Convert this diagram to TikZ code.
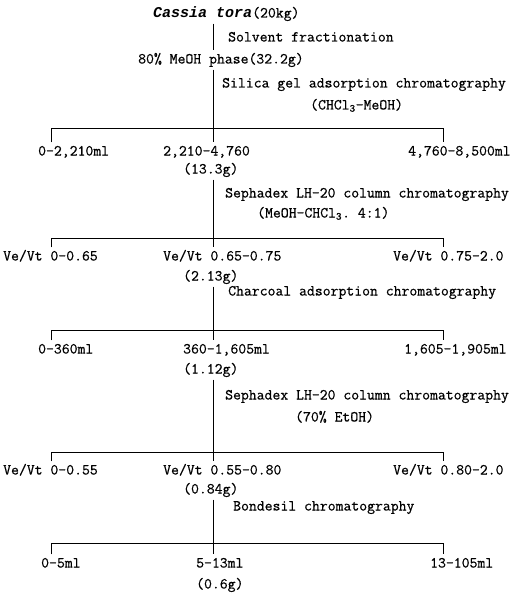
\documentclass[tikz,border=0pt]{standalone}
\usepackage{fontspec}
\usepackage{tikz}
\setmonofont{Latin Modern Mono}[FakeBold=0.6]
\newfontfamily\namefont{Liberation Mono}
\newcommand{\chcl}{CHCl\textsubscript{3}}

\begin{document}
\begin{tikzpicture}[
        x=1pt, y=-1pt,
        txt/.style={anchor=west, inner xsep=0pt, inner ysep=3pt, text height=10pt, text depth=3pt, font=\fontsize{15.3}{18}\ttfamily},
        link/.style={line width=0.8pt, black}
    ]
        \useasboundingbox (0,0) rectangle (530,599);

        % branch points
        \coordinate (l1) at (51,128);  \coordinate (m1) at (213,128); \coordinate (r1) at (443,128);
        \coordinate (l2) at (51,238);  \coordinate (m2) at (213,238); \coordinate (r2) at (443,238);
        \coordinate (l3) at (51,330);  \coordinate (m3) at (213,330); \coordinate (r3) at (443,330);
        \coordinate (l4) at (51,452);  \coordinate (m4) at (213,452); \coordinate (r4) at (443,452);
        \coordinate (l5) at (51,543);  \coordinate (m5) at (213,543); \coordinate (r5) at (443,543);

        % starting material
        \node[txt] (cassia) at (153,14) {{\fontsize{15}{17}\namefont\bfseries\itshape Cassia tora}(20kg)};
        \node[txt] (solvent) at (228,38) {Solvent fractionation};
        \node[txt] (meoh) at (138,60) {80\% MeOH phase(32.2g)};
        \node[txt] (silica) at (222,84) {Silica gel adsorption chromatography};
        \node[txt] (silicaeluent) at (310,106) {(\chcl-MeOH)};

        % silica gel fractions
        \node[txt] (f1a) at (38,152) {0-2,210ml};
        \node[txt] (f1b) at (163,152) {2,210-4,760};
        \node[txt] (f1c) at (408,152) {4,760-8,500ml};
        \node[txt] (w1) at (183,170) {(13.3g)};
        \node[txt] (seph1) at (225,194) {Sephadex LH-20 column chromatography};
        \node[txt] (sepheluent1) at (257,214) {(MeOH-\chcl. 4:1)};

        % first Sephadex fractions
        \node[txt] (f2a) at (3,257) {Ve/Vt 0-0.65};
        \node[txt] (f2b) at (163,257) {Ve/Vt 0.65-0.75};
        \node[txt] (f2c) at (393,257) {Ve/Vt 0.75-2.0};
        \node[txt] (w2) at (183,277) {(2.13g)};
        \node[txt] (charcoal) at (228,292) {Charcoal adsorption chromatography};

        % charcoal fractions
        \node[txt] (f3a) at (38,350) {0-360ml};
        \node[txt] (f3b) at (183,350) {360-1,605ml};
        \node[txt] (f3c) at (404,350) {1,605-1,905ml};
        \node[txt] (w3) at (183,370) {(1.12g)};
        \node[txt] (seph2) at (225,396) {Sephadex LH-20 column chromatography};
        \node[txt] (sepheluent2) at (295,418) {(70\% EtOH)};

        % second Sephadex fractions
        \node[txt] (f4a) at (3,471) {Ve/Vt 0-0.55};
        \node[txt] (f4b) at (163,471) {Ve/Vt 0.55-0.80};
        \node[txt] (f4c) at (393,471) {Ve/Vt 0.80-2.0};
        \node[txt] (w4) at (183,490) {(0.84g)};
        \node[txt] (bondesil) at (233,507) {Bondesil chromatography};

        % Bondesil fractions
        \node[txt] (f5a) at (41,564) {0-5ml};
        \node[txt] (f5b) at (196,564) {5-13ml};
        \node[txt] (f5c) at (430,564) {13-105ml};
        \node[txt] (w5) at (196,585) {(0.6g)};

        % connectors
        \draw[link] (cassia.south -| m1) -- (meoh.north -| m1);
        \draw[link] (meoh.south -| m1) -- (m1);
        \draw[link] (f1a.north -| l1) -- (l1) -- (r1) -- (f1c.north -| r1);
        \draw[link] (m1) -- (f1b.north -| m1);

        \draw[link] (w1.south -| m2) -- (m2);
        \draw[link] (f2a.north -| l2) -- (l2) -- (r2) -- (f2c.north -| r2);
        \draw[link] (m2) -- (f2b.north -| m2);

        \draw[link] (w2.south -| m3) -- (m3);
        \draw[link] (f3a.north -| l3) -- (l3) -- (r3) -- (f3c.north -| r3);
        \draw[link] (m3) -- (f3b.north -| m3);

        \draw[link] (w3.south -| m4) -- (m4);
        \draw[link] (f4a.north -| l4) -- (l4) -- (r4) -- (f4c.north -| r4);
        \draw[link] (m4) -- (f4b.north -| m4);

        \draw[link] (w4.south -| m5) -- (m5);
        \draw[link] (f5a.north -| l5) -- (l5) -- (r5) -- (f5c.north -| r5);
        \draw[link] (m5) -- (f5b.north -| m5);
    \end{tikzpicture}
\end{document}
